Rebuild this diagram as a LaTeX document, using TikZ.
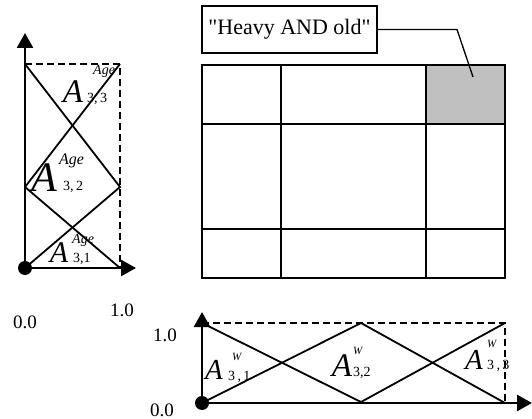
\documentclass[tikz,border=0pt]{standalone}
\usepackage{fontspec}
\setmainfont{Liberation Serif}
\usetikzlibrary{arrows.meta,positioning,calc}
\definecolor{cellgray}{RGB}{192,192,192}
\tikzset{
    axis/.style={line width=2.6pt, -{Triangle[length=15pt, width=16pt]}},
    memb/.style={line width=1.8pt},
    bound/.style={line width=1.6pt, dash pattern=on 7pt off 4pt},
    origin/.style={circle, fill=black, minimum size=14pt, inner sep=0pt},
    setname/.style={inner sep=0pt, anchor=base, font=\fontsize{33}{33}\selectfont\itshape},
    setvar/.style={inner sep=0pt, anchor=base west, font=\fontsize{14}{14}\selectfont\itshape},
    setidx/.style={inner sep=0pt, anchor=base west, font=\fontsize{14}{14}\selectfont},
    ticklabel/.style={inner sep=0pt, font=\fontsize{19}{19}\selectfont},
    cell/.style={draw, line width=1.5pt},
    callout/.style={draw, line width=1.5pt, minimum width=175pt, minimum height=47pt,
        inner sep=0pt, font=\fontsize{22}{22}\selectfont}
}

\begin{document}
\begin{tikzpicture}[x=1pt, y=-1pt]
    \useasboundingbox (0,0) rectangle (532,419);

    % age plot
    \coordinate (lo) at (25,268);
    \coordinate (lytip) at (25,33);
    \coordinate (lxtip) at (136,268);
    \coordinate (ltl) at (25,64);
    \coordinate (ltr) at (120,64);
    \coordinate (lml) at (25,187);
    \coordinate (lmr) at (120,187);
    \coordinate (lbr) at (120,268);

    \draw[bound] (ltl) -- (ltr) -- (lbr);
    \draw[memb] (ltl) -- (lmr) -- (lo);
    \draw[memb] (ltr) -- (lml) -- (lbr);
    \draw[axis] (lo) -- (lytip);
    \draw[axis] (lo) -- (lxtip);
    \node[origin] (lorigin) at (lo) {};

    \node[setname] (age3) at (73,103) {A};
    \node[setvar] (age3v) at (93,75) {Age};
    \node[setidx] (age3i) at (87,103) {3,\,3};
    \node[setname, font=\fontsize{42}{42}\selectfont\itshape] (age2) at (44,192) {A};
    \node[setvar, font=\fontsize{16}{16}\selectfont\itshape] (age2v) at (59,165) {Age};
    \node[setidx] (age2i) at (63,191) {3,\,2};
    \node[setname, font=\fontsize{30}{30}\selectfont\itshape] (age1) at (59,263) {A};
    \node[setvar] (age1v) at (72,244) {Age};
    \node[setidx] (age1i) at (73,263) {3,1};

    \node[ticklabel] (lzero) at (25,322) {0.0};
    \node[ticklabel] (lone) at (122,310) {1.0};

    % grid
    \fill[cellgray] (426,65) rectangle (505,124);
    \draw[cell] (202,65) rectangle (505,278);
    \draw[cell] (281,65) -- (281,278);
    \draw[cell] (426,65) -- (426,278);
    \draw[cell] (202,124) -- (505,124);
    \draw[cell] (202,229) -- (505,229);

    \node[callout] (query) at (289.5,29.5) {\textquotedbl Heavy AND old\textquotedbl};
    \coordinate (hit) at (473,77);
    \draw[line width=1.3pt] (query.east) -- (457,29.5) -- (hit);

    % weight plot
    \coordinate (bo) at (202,403);
    \coordinate (bytip) at (202,312);
    \coordinate (bxtip) at (532,403);
    \coordinate (btl) at (202,323);
    \coordinate (btm) at (361,323);
    \coordinate (btr) at (505,323);
    \coordinate (bbm) at (361,402);
    \coordinate (bbr) at (505,403);

    \draw[bound] (btl) -- (btr) -- (bbr);
    \draw[memb] (btl) -- (bbm) -- (btr);
    \draw[memb] (bo) -- (btm) -- (bbr);
    \draw[axis] (bo) -- (bytip);
    \draw[axis] (bo) -- (bxtip);
    \node[origin] (borigin) at (bo) {};

    \node[setname, font=\fontsize{29}{29}\selectfont\itshape] (w1) at (214,379) {A};
    \node[setvar, font=\fontsize{11}{11}\selectfont\itshape] (w1v) at (232,360) {W};
    \node[setidx] (w1i) at (228,380) {3\,,\,1};
    \node[setname] (w2) at (342,376) {A};
    \node[setvar, font=\fontsize{11}{11}\selectfont\itshape] (w2v) at (353,354) {W};
    \node[setidx] (w2i) at (353,376) {3,2};
    \node[setname, font=\fontsize{29}{29}\selectfont\itshape] (w3) at (474,369) {A};
    \node[setvar, font=\fontsize{11}{11}\selectfont\itshape] (w3v) at (487,347) {W};
    \node[setidx] (w3i) at (487,369) {3\,,\,3};

    \node[ticklabel] (bone) at (165,335) {1.0};
    \node[ticklabel] (bzero) at (162,410) {0.0};
\end{tikzpicture}
\end{document}
